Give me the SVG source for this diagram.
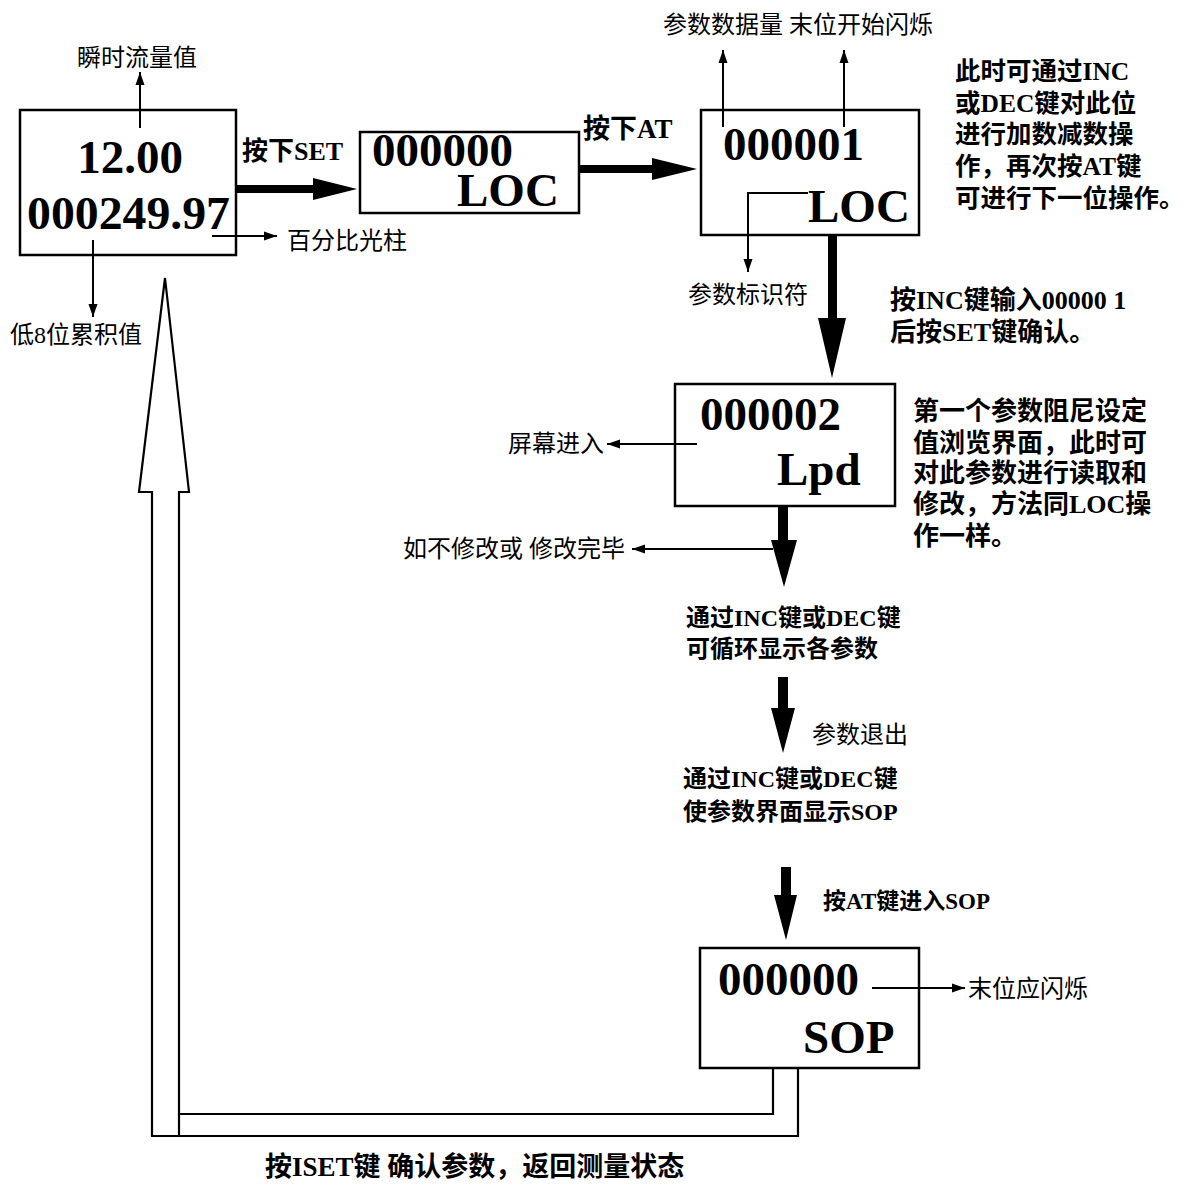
<svg xmlns="http://www.w3.org/2000/svg" width="1187" height="1185" viewBox="0 0 1187 1185">
<defs>
<marker id="ah" markerUnits="userSpaceOnUse" markerWidth="14" markerHeight="10" refX="13" refY="5" orient="auto">
<path d="M0,0.5 L13,5 L0,9.5 z" fill="#000"/>
</marker>
<style>
.box{fill:#fff;stroke:#000;stroke-width:2.5}
.num{font-family:"Liberation Serif",serif;font-weight:bold;font-size:47px;fill:#000}
.lbl{font-family:"Liberation Serif","Noto Sans CJK SC",serif;font-size:24px;fill:#000}
.bld{font-family:"Liberation Serif","Noto Sans CJK SC",serif;font-weight:bold;fill:#000}
.thin{fill:none;stroke:#000;stroke-width:2}
.thick{fill:#000;stroke:none}
.hollow{fill:none;stroke:#000;stroke-width:2.2;stroke-linejoin:miter}
</style>
</defs>
<rect width="1187" height="1185" fill="#fff"/>

<g id="node-main">
<rect class="box" x="20" y="110" width="216" height="145"/>
<text class="num" x="130" y="173" text-anchor="middle">12.00</text>
<text class="num" x="27" y="229" textLength="203" lengthAdjust="spacingAndGlyphs">000249.97</text>
</g>

<g id="node-loc0">
<rect class="box" x="360" y="132" width="219" height="81"/>
<text class="num" x="372" y="166">000000</text>
<text class="num" x="457" y="206">LOC</text>
</g>

<g id="node-loc1">
<rect class="box" x="701" y="110" width="218" height="125"/>
<text class="num" x="723" y="160">000001</text>
<text class="num" x="808" y="222">LOC</text>
</g>

<g id="node-lpd">
<rect class="box" x="675" y="384" width="220" height="122"/>
<text class="num" x="700" y="430">000002</text>
<text class="num" x="777" y="485">Lpd</text>
</g>

<g id="node-sop">
<rect class="box" x="700" y="948" width="219" height="120"/>
<text class="num" x="718" y="995">000000</text>
<text class="num" x="803" y="1053">SOP</text>
</g>

<g id="connectors">
<line class="thin" x1="140" y1="128" x2="140" y2="72" marker-end="url(#ah)"/>
<line class="thin" x1="93" y1="240" x2="93" y2="317" marker-end="url(#ah)"/>
<line class="thin" x1="212" y1="236" x2="277" y2="236" marker-end="url(#ah)"/>
<line class="thin" x1="723" y1="127" x2="723" y2="50" marker-end="url(#ah)"/>
<line class="thin" x1="844" y1="127" x2="844" y2="50" marker-end="url(#ah)"/>
<polyline class="thin" points="808,193 748,193 748,272" marker-end="url(#ah)"/>
<line class="thin" x1="697" y1="444" x2="607" y2="444" marker-end="url(#ah)"/>
<line class="thin" x1="773" y1="549" x2="632" y2="549" marker-end="url(#ah)"/>
<line class="thin" x1="872" y1="988" x2="965" y2="988" marker-end="url(#ah)"/>

<polygon class="thick" points="236,185 313,185 313,178 357,189 313,200 313,193 236,193"/>
<polygon class="thick" points="579,165 652,165 652,158 697,169 652,180 652,173 579,173"/>
<polygon class="thick" points="828,235 837,235 837,318 846,318 832,378 818,318 828,318"/>
<polygon class="thick" points="778,506 788,506 788,540 797,540 784,587 771,540 778,540"/>
<polygon class="thick" points="778,677 788,677 788,708 795,708 783,753 771,708 778,708"/>
<polygon class="thick" points="781,867 791,867 791,895 797,895 786,940 774,895 781,895"/>

<path class="hollow" d="M773,1068 L773,1114 L179,1114 L179,492 L189,492 L165,278 L139,492 L152,492 L152,1136 L798,1136 L798,1068"/>
<line class="hollow" x1="179" y1="1114" x2="179" y2="1136"/>
</g>

<g id="labels">
<text class="lbl" x="77" y="66">瞬时流量值</text>
<text class="lbl" x="10" y="343">低8位累积值</text>
<text class="lbl" x="287" y="249">百分比光柱</text>
<text class="bld" x="242" y="160" font-size="26">按下SET</text>
<text class="bld" x="583" y="138" font-size="27">按下AT</text>
<text class="lbl" x="663" y="33" font-size="24.5">参数数据量 末位开始闪烁</text>
<text class="lbl" x="688" y="303">参数标识符</text>
<text class="bld" font-size="25.5">
<tspan x="955" y="80">此时可通过INC</tspan>
<tspan x="955" y="112">或DEC键对此位</tspan>
<tspan x="955" y="143">进行加数减数操</tspan>
<tspan x="955" y="175">作，再次按AT键</tspan>
<tspan x="955" y="207">可进行下一位操作。</tspan>
</text>
<text class="bld" font-size="26">
<tspan x="890" y="309">按INC键输入00000 1</tspan>
<tspan x="890" y="341">后按SET键确认。</tspan>
</text>
<text class="lbl" x="508" y="452">屏幕进入</text>
<text class="bld" font-size="26">
<tspan x="913" y="420">第一个参数阻尼设定</tspan>
<tspan x="913" y="452">值浏览界面，此时可</tspan>
<tspan x="913" y="482">对此参数进行读取和</tspan>
<tspan x="913" y="513">修改，方法同LOC操</tspan>
<tspan x="913" y="545">作一样。</tspan>
</text>
<text class="lbl" x="403" y="557">如不修改或 修改完毕</text>
<text class="bld" font-size="24">
<tspan x="686" y="626">通过INC键或DEC键</tspan>
<tspan x="686" y="657">可循环显示各参数</tspan>
</text>
<text class="lbl" x="812" y="743" font-size="28">参数退出</text>
<text class="bld" font-size="24">
<tspan x="683" y="787">通过INC键或DEC键</tspan>
<tspan x="683" y="820">使参数界面显示SOP</tspan>
</text>
<text class="bld" x="823" y="909" font-size="23">按AT键进入SOP</text>
<text class="lbl" x="968" y="997">末位应闪烁</text>
<text class="bld" x="265" y="1176" font-size="27">按ISET键 确认参数，返回测量状态</text>
</g>
</svg>
